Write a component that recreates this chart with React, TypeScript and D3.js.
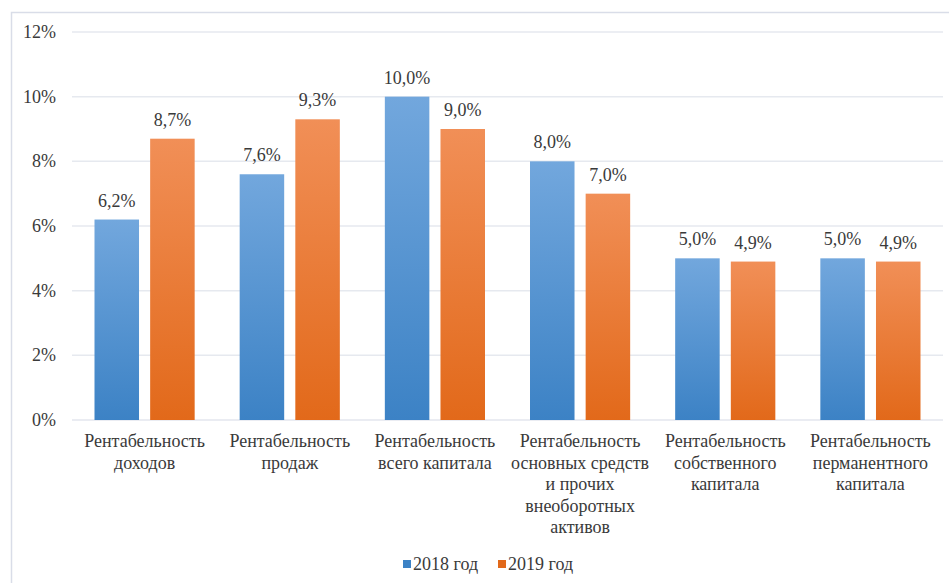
import React from "react";
import * as d3 from "d3";

const categories: string[][] = [
  ["Рентабельность", "доходов"],
  ["Рентабельность", "продаж"],
  ["Рентабельность", "всего капитала"],
  ["Рентабельность", "основных средств", "и прочих", "внеоборотных", "активов"],
  ["Рентабельность", "собственного", "капитала"],
  ["Рентабельность", "перманентного", "капитала"],
];
const seriesNames = ["2018 год", "2019 год"];
const values2018 = [6.2, 7.6, 10.0, 8.0, 5.0, 5.0];
const values2019 = [8.7, 9.3, 9.0, 7.0, 4.9, 4.9];
const yTicks = [0, 2, 4, 6, 8, 10, 12];

const W = 949;
const H = 583;
const FONT = '"Liberation Serif", "Times New Roman", serif';
const TEXT = "#3a3a3a";

const gradients = [
  { id: "gBlue", top: "#72a7dd", bottom: "#3c82c5" },
  { id: "gOrange", top: "#f18f57", bottom: "#e2691a" },
];

export default function App() {
  const plot = { left: 72, right: 943, top: 32, bottom: 420 };
  const x0 = d3
    .scaleBand<number>()
    .domain(categories.map((_, i) => i))
    .range([plot.left, plot.right])
    .paddingInner(0.31)
    .paddingOuter(0.155);
  const x1 = d3
    .scaleBand<string>()
    .domain(seriesNames)
    .range([0, x0.bandwidth()])
    .paddingInner(0.2);
  const y = d3.scaleLinear().domain([0, 12]).range([plot.bottom, plot.top]);
  const series = [values2018, values2019];
  const fmt = (v: number) => v.toFixed(1).replace(".", ",") + "%";
  const txt = { fontFamily: FONT, fontSize: "18px", fill: TEXT };

  return (
    <svg
      width={W}
      height={H}
      style={{ position: "absolute", left: 0, top: 0, background: "#fff", fontFamily: FONT }}
    >
      <defs>
        {gradients.map((g) => (
          <linearGradient key={g.id} id={g.id} x1="0" y1="0" x2="0" y2="1">
            <stop offset="0%" stopColor={g.top} />
            <stop offset="100%" stopColor={g.bottom} />
          </linearGradient>
        ))}
      </defs>
      <rect x={11.5} y={12.5} width={W} height={H} fill="#fff" stroke="#d9dde8" strokeWidth={1.5} />

      {yTicks.map((t) => (
        <g key={t}>
          {t > 0 && (
            <line
              x1={plot.left}
              x2={plot.right}
              y1={y(t)}
              y2={y(t)}
              stroke="#e6e9ef"
              strokeWidth={1.5}
            />
          )}
          <text x={56} y={y(t)} dy="0.33em" textAnchor="end" style={txt}>
            {t}%
          </text>
        </g>
      ))}
      <line
        x1={plot.left}
        x2={plot.right}
        y1={y(0)}
        y2={y(0)}
        stroke="#e3e6ee"
        strokeWidth={1.5}
      />

      {categories.map((_, i) =>
        series.map((vals, s) => {
          const bx = (x0(i) as number) + (x1(seriesNames[s]) as number);
          const by = y(vals[i]);
          return (
            <g key={`${i}-${s}`}>
              <rect
                x={bx}
                y={by}
                width={x1.bandwidth()}
                height={y(0) - by}
                fill={`url(#${gradients[s].id})`}
              />
              <text x={bx + x1.bandwidth() / 2} y={by - 13} textAnchor="middle" style={txt}>
                {fmt(vals[i])}
              </text>
            </g>
          );
        })
      )}

      {categories.map((lines, i) => {
        const cx = (x0(i) as number) + x0.bandwidth() / 2;
        return (
          <text key={i} x={cx} y={447} textAnchor="middle" style={txt}>
            {lines.map((l, k) => (
              <tspan key={k} x={cx} dy={k === 0 ? 0 : 21.5}>
                {l}
              </tspan>
            ))}
          </text>
        );
      })}

      {seriesNames.map((name, s) => {
        const lx = 403 + s * 95;
        return (
          <g key={name}>
            <rect x={lx} y={560} width={8} height={8} fill={gradients[s].bottom} />
            <text x={lx + 10} y={570} style={txt}>
              {name}
            </text>
          </g>
        );
      })}
    </svg>
  );
}
